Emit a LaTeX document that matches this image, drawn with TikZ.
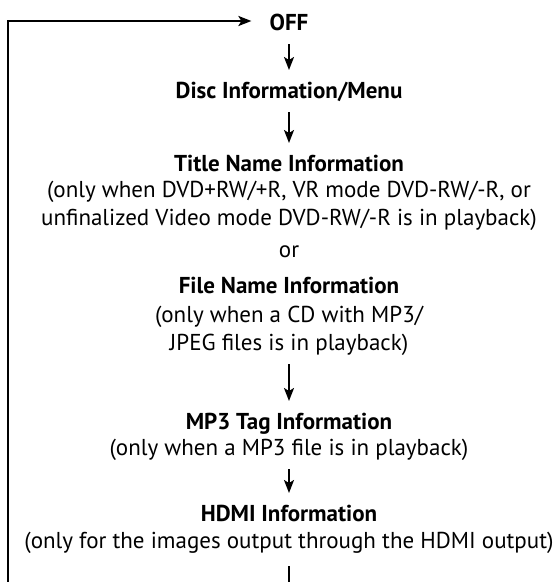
\documentclass[tikz,border=0pt]{standalone}
\usepackage{fontspec}
\setmainfont{PT Sans}
\usetikzlibrary{arrows.meta}

\begin{document}
\begin{tikzpicture}[x=1pt,y=1pt,
  txt/.style={inner sep=0pt,anchor=base,font=\fontsize{23}{27}\selectfont},
  hd/.style={txt,font=\fontsize{23}{27}\selectfont\bfseries},
  tip/.style={-{Stealth[length=13pt,width=10pt,inset=3pt]}},
  flow/.style={line width=2pt,tip,shorten <=14pt,shorten >=28pt},
  back/.style={line width=2.3pt,tip,shorten <=18pt,shorten >=18pt}]
  \useasboundingbox (0,0) rectangle (555,-582);
  \clip (0,0) rectangle (555,-582);

  \node[hd] (off) at (289,-30) {OFF};
  \node[hd] (disc) at (289,-98) {Disc Information/Menu};
  \node[hd] (title) at (289,-171) {Title Name Information};
  \node[txt] (titlea) at (289,-197) {(only when DVD+RW/+R, VR mode DVD-RW/-R, or};
  \node[txt] (titleb) at (289,-225) {unfinalized Video mode DVD-RW/-R is in playback)};
  \node[txt] (or) at (289,-257) {or};
  \node[hd] (file) at (289,-293) {File Name Information};
  \node[txt] (filea) at (289,-322) {(only when a CD with MP3/};
  \node[txt] (fileb) at (289,-350) {JPEG files is in playback)};
  \node[hd] (mp3) at (289,-429) {MP3 Tag Information};
  \node[txt] (mp3a) at (289,-455) {(only when a MP3 file is in playback)};
  \node[hd] (hdmi) at (289,-521) {HDMI Information};
  \node[txt] (hdmia) at (289,-548) {(only for the images output through the HDMI output)};

  \coordinate (bend) at (289,-600);
  \coordinate (corner) at (8,-600);
  \coordinate (top) at (8,-21);

  \draw[flow] (off.base) -- (disc.base);
  \draw[flow] (disc.base) -- (title.base);
  \draw[flow] (fileb.base) -- (mp3.base);
  \draw[flow] (mp3a.base) -- (hdmi.base);
  \draw[back] (hdmia.base) -- (bend) -- (corner) -- (top) -- (top -| off.west);
\end{tikzpicture}
\end{document}
